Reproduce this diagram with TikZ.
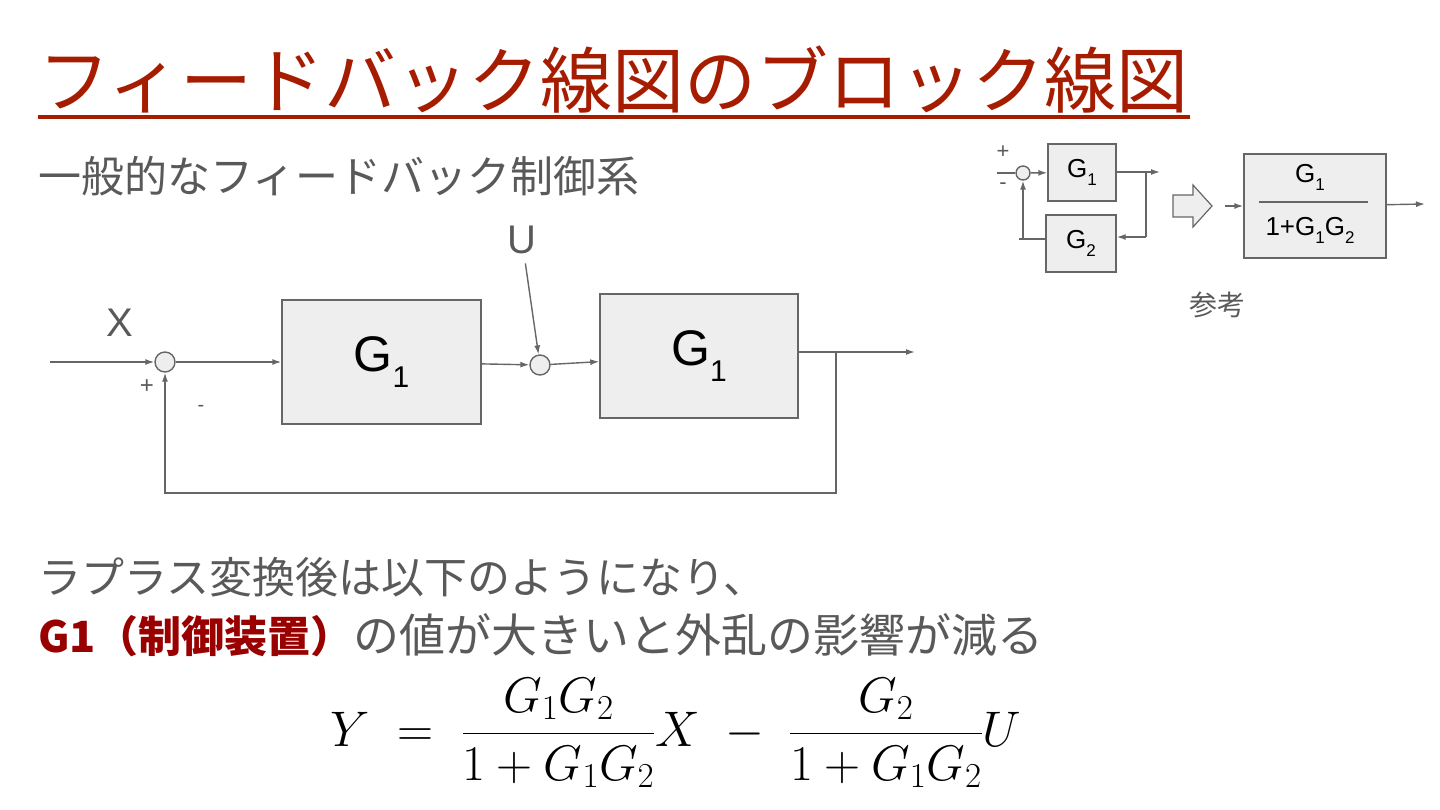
\RequirePackage{fix-cm}
\documentclass[tikz,border=0pt]{standalone}
\usepackage{amsmath}
\usepackage{fontspec}
\setmainfont{Liberation Sans}
\newfontfamily\jp{Noto Sans CJK JP}
\usepackage{xcolor}
\usetikzlibrary{arrows.meta, positioning}

\definecolor{titlered}{HTML}{A61C00}
\definecolor{darkred}{HTML}{990000}
\definecolor{txtgray}{HTML}{595959}
\definecolor{linegray}{HTML}{666666}
\definecolor{boxfill}{HTML}{EEEEEE}

% G with a lowered index, sizes in pt
\newcommand{\Gsub}[4]{{\fontsize{#2}{#2}\selectfont G}\raisebox{-#4pt}{\fontsize{#3}{#3}\selectfont #1}}

\begin{document}
\begin{tikzpicture}[
    x=1pt, y=-1pt,
    block/.style={rectangle, draw=linegray, fill=boxfill, line width=1.4pt, inner sep=0pt, text=black},
    sumnode/.style={circle, draw=linegray, fill=boxfill, line width=1.4pt, inner sep=0pt},
    arrow/.style={-{Latex[length=9pt, width=6pt]}, draw=linegray, line width=1.4pt},
    line/.style={draw=linegray, line width=1.4pt},
    sign/.style={font=\fontsize{24}{24}\selectfont, text=txtgray},
    jtext/.style={font=\jp\fontsize{43}{50}\selectfont, text=txtgray, anchor=west, inner sep=0pt}
]
    \useasboundingbox (0,0) rectangle (1440,810);

    % Title
    \node[anchor=west, inner sep=0pt, text=titlered, font=\jp\fontsize{72}{80}\selectfont] (title) at (38,80) {フィードバック線図のブロック線図};
    \draw[titlered, line width=4pt] (38,117) -- (1190,117);
    \node[jtext] (sub) at (38,176) {一般的なフィードバック制御系};

    % Nodes
    \coordinate (in) at (50,362);
    \node[sumnode, minimum size=20pt] (sum1) at (165,362) {};
    \node[block, minimum width=199pt, minimum height=124pt] (box1) at (381.5,362) {\Gsub{1}{50}{30}{16}};
    \node[sumnode, minimum size=20pt] (sum2) at (540,365) {};
    \node[block, minimum width=198pt, minimum height=124pt] (box2) at (699,356) {\Gsub{1}{50}{30}{16}};
    \coordinate (br) at (836,352);
    \coordinate (out) at (915,352);
    \coordinate (fb) at (836,493);

    % Labels
    \node[text=txtgray, font=\fontsize{40}{40}\selectfont] (X) at (120,323) {X};
    \node[text=txtgray, font=\fontsize{40}{40}\selectfont] (U) at (522,240) {U};
    \node[sign] (plus) at (147,387) {+};
    \node[sign, font=\fontsize{20}{20}\selectfont] (minus) at (201,408) {-};

    % Arrows
    \draw[arrow] (in) -- (sum1);
    \draw[arrow] (sum1) -- (box1);
    \draw[arrow] (box1) -- (sum2);
    \draw[arrow, shorten <=6pt] (U) -- (sum2);
    \draw[arrow] (sum2) -- (box2);
    \draw[line] (box2.east |- br) -- (br);
    \draw[arrow] (br) -- (out);
    \draw[arrow] (br) -- (fb) -| (sum1.south);

    % Reference diagram
    \node[sumnode, minimum size=14pt] (rsum) at (1023,173) {};
    \node[block, minimum width=68pt, minimum height=57pt] (rg1) at (1082,172.5) {\Gsub{1}{26}{17}{8}};
    \node[block, minimum width=70pt, minimum height=57pt] (rg2) at (1081,243.5) {\Gsub{2}{26}{17}{8}};
    \coordinate (rin) at (997,173);
    \coordinate (rbr) at (1146,172);
    \coordinate (rout) at (1160,172);
    \coordinate (rfb) at (1146,237);
    \coordinate (rcorner) at (1019,239);
    \node[sign, font=\fontsize{22}{22}\selectfont] (rplus) at (1003,152) {+};
    \node[sign, font=\fontsize{22}{22}\selectfont] (rminus) at (1003,186) {-};

    \draw[line] (rin) -- (rsum);
    \draw[arrow] (rsum) -- (rg1);
    \draw[line] (rg1.east |- rbr) -- (rbr);
    \draw[arrow] (rbr) -- (rout);
    \draw[line] (rbr) -- (rfb);
    \draw[arrow] (rfb) -- (rg2.east |- rfb);
    \draw[line] (rg2.west |- rcorner) -- (rcorner);
    \draw[arrow] (rsum.south |- rcorner) -- (rsum.south);

    % Block arrow
    \draw[linegray, fill=boxfill, line width=1.2pt] (1173,195) -- (1193,195) -- (1193,185) -- (1212,206) -- (1193,227) -- (1193,217) -- (1173,217) -- cycle;

    \node[block, minimum width=142pt, minimum height=104pt] (rtot) at (1315,206) {};
    \node[inner sep=0pt] (num) at (1310,177) {\Gsub{1}{26}{17}{8}};
    \node[inner sep=0pt] (den) at (1310,230) {{\fontsize{26}{26}\selectfont 1+}\Gsub{1}{26}{17}{8}\Gsub{2}{26}{17}{8}};
    \draw[line, draw=linegray] (1259,202) -- (1368,202);
    \coordinate (tin) at (1225,206);
    \coordinate (tout) at (1425,204);
    \draw[arrow] (tin) -- (rtot);
    \draw[arrow] (rtot) -- (tout);
    \node[text=txtgray, font=\jp\fontsize{28}{28}\selectfont] (ref) at (1217,305) {参考};

    % Explanation
    \node[jtext] (l1) at (38,577) {ラプラス変換後は以下のようになり、};
    \node[jtext] (l2) at (38,635) {{\color{darkred}\bfseries G1（制御装置）}{\fontsize{46}{50}\selectfont の値が大きいと外乱の影響が減る}};

    % Equation
    \node[inner sep=0pt, font=\fontsize{50}{60}\selectfont] (eq) at (676,733) {$\displaystyle Y \;=\; \frac{G_1G_2}{1+G_1G_2}X \;-\; \frac{G_2}{1+G_1G_2}U$};
\end{tikzpicture}
\end{document}
